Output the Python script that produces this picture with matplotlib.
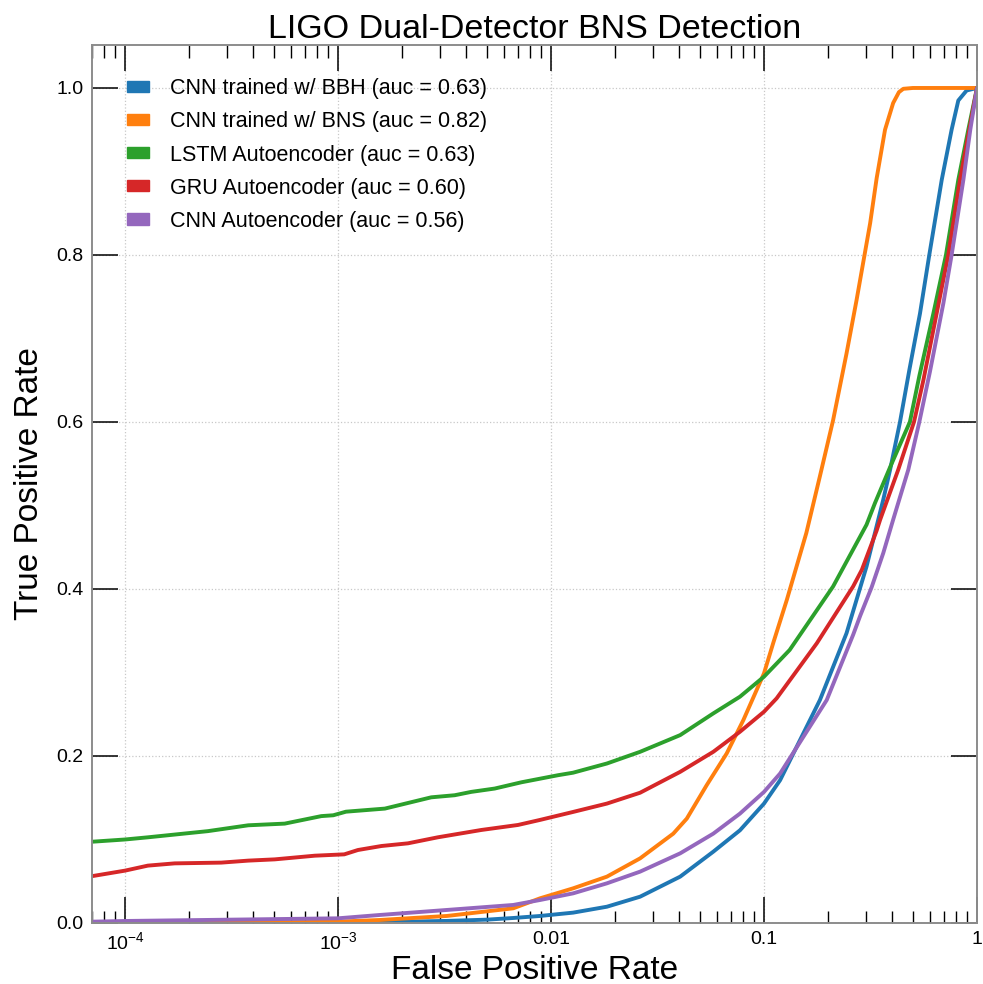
import matplotlib
matplotlib.use("Agg")
import matplotlib.pyplot as plt
from matplotlib.patches import Patch
from matplotlib.ticker import FixedLocator, FixedFormatter, LogLocator, NullFormatter

plt.rcParams['font.family'] = ['Liberation Sans', 'DejaVu Sans']
plt.rcParams['mathtext.fontset'] = 'custom'
plt.rcParams['mathtext.rm'] = 'Liberation Sans'
plt.rcParams['mathtext.it'] = 'Liberation Sans'

title = "LIGO Dual-Detector BNS Detection"
xlabel = "False Positive Rate"
ylabel = "True Positive Rate"

labels = [
    "CNN trained w/ BBH (auc = 0.63)",
    "CNN trained w/ BNS (auc = 0.82)",
    "LSTM Autoencoder (auc = 0.63)",
    "GRU Autoencoder (auc = 0.60)",
    "CNN Autoencoder (auc = 0.56)",
]
colors = ["#1f77b4", "#ff7f0e", "#2ca02c", "#d62728", "#9467bd"]

xtick_values = [1e-4, 1e-3, 1e-2, 1e-1, 1]
xtick_labels = [r"$10^{-4}$", r"$10^{-3}$", "0.01", "0.1", "1"]
ytick_values = [0.0, 0.2, 0.4, 0.6, 0.8, 1.0]
ytick_labels = ["0.0", "0.2", "0.4", "0.6", "0.8", "1.0"]

# CNN trained w/ BBH
fpr_bbh = [7e-5, 1e-3, 2e-3, 3.24e-3, 5e-3, 6.65e-3, 8.87e-3, 0.0127, 0.0183, 0.0262,
           0.0404, 0.0578, 0.0771, 0.1, 0.119, 0.183, 0.244, 0.303, 0.363, 0.391,
           0.435, 0.481, 0.540, 0.597, 0.683, 0.760, 0.817, 0.894, 1.0]
tpr_bbh = [0.0, 0.0008, 0.0015, 0.0025, 0.004, 0.006, 0.0084, 0.0124, 0.0195, 0.0315,
           0.0555, 0.0854, 0.111, 0.143, 0.171, 0.267, 0.347, 0.427, 0.507, 0.543,
           0.600, 0.662, 0.730, 0.800, 0.890, 0.950, 0.985, 0.997, 1.0]

# CNN trained w/ BNS
fpr_bns = [7e-5, 5e-4, 1e-3, 1.57e-3, 3.24e-3, 6.65e-3, 8.87e-3, 0.0127, 0.0183, 0.0262,
           0.0375, 0.0434, 0.0538, 0.0668, 0.080, 0.1, 0.1107, 0.128, 0.158, 0.183,
           0.211, 0.244, 0.272, 0.315, 0.338, 0.370, 0.404, 0.430, 0.451, 0.5, 1.0]
tpr_bns = [0.0, 0.0005, 0.0016, 0.0036, 0.0084, 0.0176, 0.0295, 0.0415, 0.0555, 0.0774,
           0.107, 0.125, 0.165, 0.203, 0.243, 0.299, 0.336, 0.387, 0.467, 0.535,
           0.602, 0.682, 0.746, 0.838, 0.892, 0.950, 0.982, 0.995, 0.999, 1.0, 1.0]

# LSTM Autoencoder
fpr_lstm = [7.08e-5, 1e-4, 1.28e-4, 2.45e-4, 3.79e-4, 5.62e-4, 8.35e-4, 9.5e-4, 1.09e-3,
            1.66e-3, 2.74e-3, 3.53e-3, 4.22e-3, 5.44e-3, 7.26e-3, 0.0108, 0.0127, 0.0183,
            0.0262, 0.0404, 0.0578, 0.0771, 0.1, 0.119, 0.132, 0.211, 0.283, 0.303,
            0.332, 0.391, 0.484, 0.536, 0.624, 0.715, 0.817, 0.910, 1.0]
tpr_lstm = [0.0974, 0.100, 0.1026, 0.110, 0.117, 0.119, 0.128, 0.129, 0.1333,
            0.137, 0.1505, 0.153, 0.157, 0.161, 0.1685, 0.177, 0.180, 0.191,
            0.205, 0.225, 0.251, 0.271, 0.295, 0.315, 0.327, 0.403, 0.463, 0.477,
            0.503, 0.546, 0.600, 0.655, 0.730, 0.800, 0.890, 0.950, 1.0]

# GRU Autoencoder
fpr_gru = [7.08e-5, 1e-4, 1.28e-4, 1.71e-4, 2.83e-4, 3.79e-4, 5.05e-4, 7.78e-4, 1.07e-3,
           1.24e-3, 1.60e-3, 2.13e-3, 2.94e-3, 4.71e-3, 7.0e-3, 8.87e-3, 0.0127, 0.0183,
           0.0262, 0.0404, 0.0578, 0.0771, 0.1, 0.1146, 0.177, 0.262, 0.288, 0.338,
           0.351, 0.427, 0.506, 0.560, 0.733, 0.832, 0.920, 1.0]
tpr_gru = [0.0563, 0.0627, 0.0687, 0.0714, 0.0723, 0.0747, 0.0762, 0.0806, 0.0822,
           0.0874, 0.0922, 0.0954, 0.1026, 0.1114, 0.1174, 0.1234, 0.133, 0.143,
           0.156, 0.181, 0.205, 0.229, 0.253, 0.269, 0.335, 0.403, 0.423, 0.470,
           0.483, 0.543, 0.600, 0.650, 0.800, 0.890, 0.950, 1.0]

# CNN Autoencoder
fpr_cae = [7.08e-5, 1e-4, 1e-3, 1.57e-3, 3.24e-3, 6.65e-3, 8.87e-3, 0.0127, 0.0183,
           0.0262, 0.0404, 0.0578, 0.0771, 0.1, 0.119, 0.197, 0.262, 0.283, 0.320,
           0.363, 0.404, 0.476, 0.536, 0.601, 0.695, 0.760, 0.863, 0.930, 1.0]
tpr_cae = [0.0016, 0.0024, 0.0056, 0.0096, 0.0156, 0.0216, 0.0275, 0.0355, 0.0475,
           0.0615, 0.0834, 0.107, 0.131, 0.157, 0.179, 0.267, 0.345, 0.368, 0.402,
           0.443, 0.483, 0.543, 0.600, 0.660, 0.742, 0.800, 0.890, 0.950, 1.0]

series = [(fpr_bbh, tpr_bbh), (fpr_bns, tpr_bns), (fpr_lstm, tpr_lstm),
          (fpr_gru, tpr_gru), (fpr_cae, tpr_cae)]

fig = plt.figure(figsize=(9.83, 9.84), dpi=100)
ax = fig.add_axes([0.0936, 0.062, 0.9003, 0.8923])

for (fx, ty), c in zip(series, colors):
    ax.plot(fx, ty, color=c, lw=2.8, solid_capstyle='round', solid_joinstyle='round')

ax.set_xscale('log')
ax.set_xlim(7.0e-5, 1.0)
ax.set_ylim(0.0, 1.0515)

ax.xaxis.set_major_locator(FixedLocator(xtick_values))
ax.xaxis.set_major_formatter(FixedFormatter(xtick_labels))
ax.xaxis.set_minor_locator(LogLocator(base=10, subs=[2, 3, 4, 5, 6, 7, 8, 9], numticks=20))
ax.xaxis.set_minor_formatter(NullFormatter())
ax.yaxis.set_major_locator(FixedLocator(ytick_values))
ax.yaxis.set_major_formatter(FixedFormatter(ytick_labels))

ax.tick_params(which='major', direction='in', length=19, width=1.1, top=True, right=True,
               labelsize=14, pad=6, color='black')
ax.tick_params(which='minor', direction='in', length=9, width=1.0, top=True, right=True,
               color='black')

for s in ax.spines.values():
    s.set_color('#8c8c8c')
    s.set_linewidth(1.4)

ax.grid(True, which='major', linestyle=':', color='#c8c8c8', linewidth=0.9)
ax.set_axisbelow(True)

ax.set_title(title, fontsize=24.5, pad=5)
ax.set_xlabel(xlabel, fontsize=24, labelpad=1)
ax.set_ylabel(ylabel, fontsize=24, labelpad=8)

handles = [Patch(facecolor=c, edgecolor=c) for c in colors]
ax.legend(handles, labels, loc='upper left', frameon=False, fontsize=15.5,
          handlelength=1.0, handleheight=0.42, handletextpad=1.0, labelspacing=0.56,
          bbox_to_anchor=(0.018, 0.984), borderaxespad=0.5)

fig.savefig("out.png", dpi=100)
